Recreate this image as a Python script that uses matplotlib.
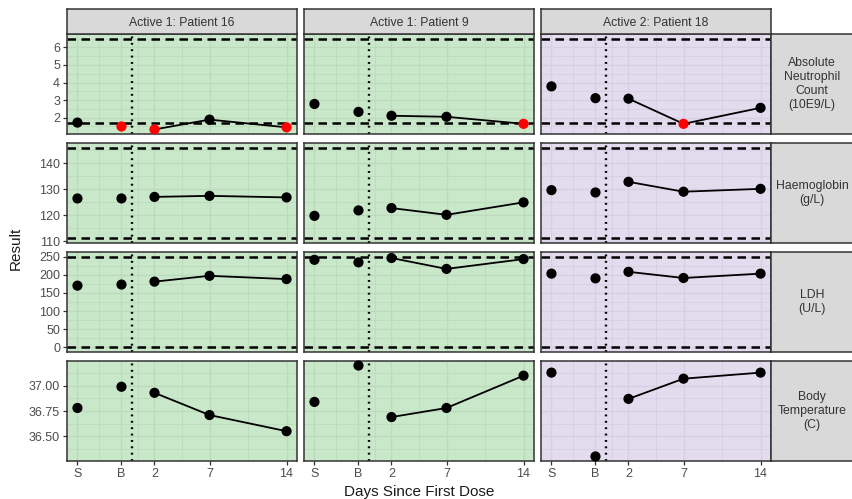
import numpy as np
import matplotlib
matplotlib.use('Agg')
from matplotlib import pyplot as plt
from matplotlib.ticker import MultipleLocator, FormatStrFormatter

plt.rcParams['font.family'] = ['Liberation Sans', 'DejaVu Sans']

# data
patients = ['Active 1: Patient 16', 'Active 1: Patient 9', 'Active 2: Patient 18']
params = ['Absolute\nNeutrophil\nCount\n(10E9/L)', 'Haemoglobin\n(g/L)', 'LDH\n(U/L)',
          'Body\nTemperature\n(C)']
visit_labels = ['S', 'B', '2', '7', '14']
visit_days = [-5, -1, 2, 7, 14]

anc = [[1.72, 1.50, 1.33, 1.89, 1.45],
       [2.78, 2.33, 2.11, 2.05, 1.65],
       [3.78, 3.11, 3.08, 1.65, 2.56]]
hgb = [[126.4, 126.4, 127.0, 127.4, 126.8],
       [119.7, 121.8, 122.7, 120.1, 124.9],
       [129.6, 128.7, 132.8, 129.0, 130.1]]
ldh = [[170, 173, 181, 197, 188],
       [241, 234, 246, 216, 243],
       [203, 190, 208, 191, 203]]
temp = [[36.78, 36.99, 36.93, 36.71, 36.55],
        [36.84, 37.20, 36.69, 36.78, 37.10],
        [37.13, 36.30, 36.87, 37.07, 37.13]]

anc_low = [[False, True, True, False, True],
           [False, False, False, False, True],
           [False, False, False, True, False]]

ref_ranges = [(1.7, 6.5), (111, 146), (0, 250), None]
values = [anc, hgb, ldh, temp]
flags = [anc_low, None, None, None]
major_step = [1, 10, 50, 0.25]
arms = ['Active 1', 'Active 1', 'Active 2']
arm_fill = {'Active 1': '#c9e7c9', 'Active 2': '#e2dcee'}
arm_grid = {'Active 1': '#bddabd', 'Active 2': '#d6d0e2'}

W, H = 853, 499
fig = plt.figure(figsize=(W / 100, H / 100), dpi=100)


def box(x0, y0, x1, y1):
    return [x0 / W, 1 - y1 / H, (x1 - x0) / W, (y1 - y0) / H]


col_x = [67, 304, 541]
col_w = 230
row_y = [34, 143, 252, 361]
row_h = 100
strip_top = 9
strip_right = 862

xlim = (min(visit_days) - 0.05 * (max(visit_days) - min(visit_days)),
        max(visit_days) + 0.05 * (max(visit_days) - min(visit_days)))
x_minor = [(a + b) / 2 for a, b in zip(visit_days[:-1], visit_days[1:])]

for r in range(4):
    # shared y range per row
    allv = [v for c in range(3) for v in values[r][c]]
    if ref_ranges[r] is not None:
        allv += list(ref_ranges[r])
    lo, hi = min(allv), max(allv)
    pad = 0.05 * (hi - lo)
    ylim = (lo - pad, hi + pad)

    for c in range(3):
        ax = fig.add_axes(box(col_x[c], row_y[r], col_x[c] + col_w, row_y[r] + row_h))
        ax.set_facecolor(arm_fill[arms[c]])
        ax.set_xlim(xlim)
        ax.set_ylim(ylim)
        ax.set_xticks(visit_days)
        ax.set_xticks(x_minor, minor=True)
        ax.yaxis.set_major_locator(MultipleLocator(major_step[r]))
        ax.yaxis.set_minor_locator(MultipleLocator(major_step[r] / 2))
        if r == 3:
            ax.yaxis.set_major_formatter(FormatStrFormatter('%.2f'))
        ax.grid(which='major', color=arm_grid[arms[c]], lw=1.0)
        ax.grid(which='minor', color=arm_grid[arms[c]], lw=0.6)
        ax.set_axisbelow(True)
        for s in ax.spines.values():
            s.set_color('#333333')
            s.set_linewidth(1.1)

        ax.tick_params(which='minor', length=0)
        ax.tick_params(which='major', length=3, width=0.9, color='#333333',
                       labelsize=9, labelcolor='#4d4d4d', pad=2)
        if r == 3:
            ax.set_xticklabels(visit_labels)
        else:
            ax.tick_params(axis='x', length=0, labelbottom=False)
        if c != 0:
            ax.tick_params(axis='y', length=0, labelleft=False)

        if ref_ranges[r] is not None:
            for yv in ref_ranges[r]:
                ax.axhline(yv, color='black', lw=1.8, ls=(0, (3.4, 2.2)), zorder=2)
        ax.axvline(0, color='black', lw=1.7, ls=(0, (0.8, 1.9)), zorder=2)

        vals = values[r][c]
        post = [i for i, d in enumerate(visit_days) if d > 0]
        ax.plot([visit_days[i] for i in post], [vals[i] for i in post],
                color='black', lw=1.3, zorder=3)
        if flags[r] is not None:
            cols = ['red' if f else 'black' for f in flags[r][c]]
        else:
            cols = ['black'] * len(vals)
        ax.scatter(visit_days, vals, s=40, c=cols, zorder=4, clip_on=False)

    # right strip
    sax = fig.add_axes(box(col_x[2] + col_w, row_y[r], strip_right, row_y[r] + row_h))
    sax.set_facecolor('#d9d9d9')
    sax.set_xticks([])
    sax.set_yticks([])
    for s in sax.spines.values():
        s.set_color('#333333')
        s.set_linewidth(1.1)
    sax.text(0.5 * (853 - col_x[2] - col_w) / (strip_right - col_x[2] - col_w), 0.5,
             params[r], ha='center', va='center', fontsize=8.8, color='#333333',
             linespacing=1.25, transform=sax.transAxes)

# top strips
for c in range(3):
    sax = fig.add_axes(box(col_x[c], strip_top, col_x[c] + col_w, row_y[0]))
    sax.set_facecolor('#d9d9d9')
    sax.set_xticks([])
    sax.set_yticks([])
    for s in sax.spines.values():
        s.set_color('#333333')
        s.set_linewidth(1.1)
    sax.text(0.5, 0.45, patients[c], ha='center', va='center', fontsize=8.8,
             color='#333333', transform=sax.transAxes)

fig.text(16 / W, 1 - 248 / H, 'Result', rotation=90, ha='center', va='center',
         fontsize=11, color='#1a1a1a')
fig.text(419 / W, 1 - 492 / H, 'Days Since First Dose', ha='center', va='center',
         fontsize=11, color='#1a1a1a')

fig.savefig('out.png', dpi=100)
